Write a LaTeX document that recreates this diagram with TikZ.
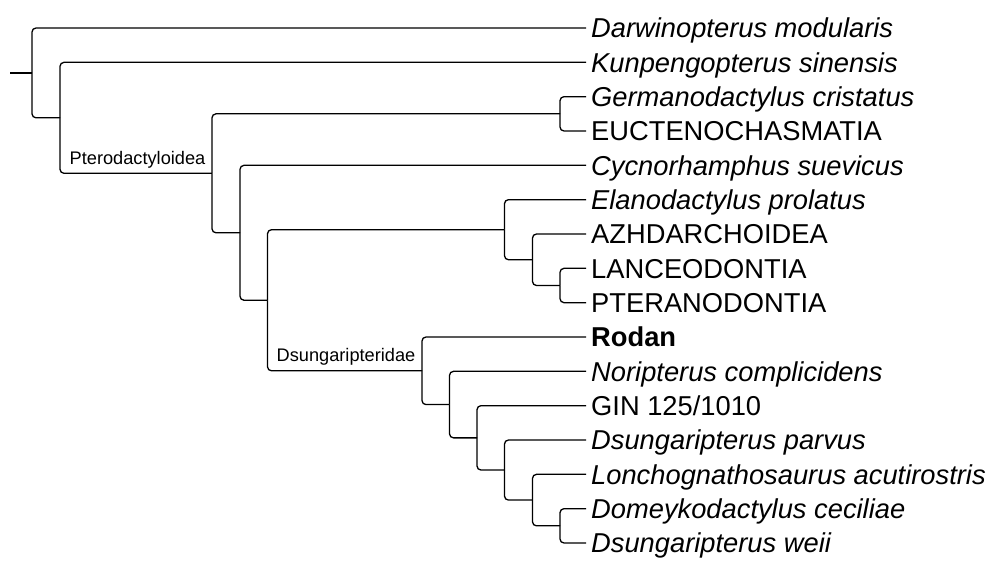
\documentclass[tikz,border=0pt]{standalone}
\usepackage{fontspec}
\setmainfont{Liberation Sans}

\tikzset{
  branch/.style={draw=black, line width=1.3pt, rounded corners=4pt},
  tip/.style={anchor=west, inner xsep=5pt, inner ysep=0pt, text height=19.5pt, text depth=0pt, font=\fontsize{27.3}{30}\selectfont},
  clade/.style={anchor=base east, inner sep=0pt, font=\fontsize{18.2}{20}\selectfont},
}

\begin{document}
\begin{tikzpicture}[x=1pt, y=-1pt]
\useasboundingbox (0,0) rectangle (1000,581);
% tips
\pgfmathsetmacro{\xt}{586}
\pgfmathsetmacro{\yo}{28}
\pgfmathsetmacro{\dy}{34.333}

  \node[tip] (dar) at (\xt,\yo+0*\dy) {\itshape Darwinopterus modularis};
  \node[tip] (kun) at (\xt,\yo+1*\dy) {\itshape Kunpengopterus sinensis};
  \node[tip] (ger) at (\xt,\yo+2*\dy) {\itshape Germanodactylus cristatus};
  \node[tip] (euc) at (\xt,\yo+3*\dy) {EUCTENOCHASMATIA};
  \node[tip] (cyc) at (\xt,\yo+4*\dy) {\itshape Cycnorhamphus suevicus};
  \node[tip] (ela) at (\xt,\yo+5*\dy) {\itshape Elanodactylus prolatus};
  \node[tip] (azh) at (\xt,\yo+6*\dy) {AZHDARCHOIDEA};
  \node[tip] (lan) at (\xt,\yo+7*\dy) {LANCEODONTIA};
  \node[tip] (pte) at (\xt,\yo+8*\dy) {PTERANODONTIA};
  \node[tip] (rod) at (\xt,\yo+9*\dy) {\bfseries Rodan};
  \node[tip] (nor) at (\xt,\yo+10*\dy) {\itshape Noripterus complicidens};
  \node[tip] (gin) at (\xt,\yo+11*\dy) {GIN 125/1010};
  \node[tip] (dpa) at (\xt,\yo+12*\dy) {\itshape Dsungaripterus parvus};
  \node[tip] (lon) at (\xt,\yo+13*\dy) {\itshape Lonchognathosaurus acutirostris};
  \node[tip] (dom) at (\xt,\yo+14*\dy) {\itshape Domeykodactylus ceciliae};
  \node[tip] (dwe) at (\xt,\yo+15*\dy) {\itshape Dsungaripterus weii};

% internal nodes
  \coordinate (stem)  at (10,72.91);
  \coordinate (root)  at (32,72.91);
  \coordinate (kp)    at (60,117.82);
  \coordinate (ptero) at (212,173.31);
  \coordinate (ge)    at (560,113.83);
  \coordinate (cy)    at (240,232.79);
  \coordinate (top)   at (267.5,300.25);
  \coordinate (el)    at (504.5,229.71);
  \coordinate (az)    at (532.5,259.75);
  \coordinate (lp)    at (560,285.5);
  \coordinate (dsung) at (422,370.8);
  \coordinate (no)    at (449.5,404.59);
  \coordinate (gi)    at (477,437.85);
  \coordinate (pa)    at (504.5,470.04);
  \coordinate (lo)    at (532.5,500.08);
  \coordinate (dw)    at (560,525.83);

% branches
  \draw[branch] (stem) -- (root);
  \draw[branch] (root) |- (dar.west);
  \draw[branch] (root) |- (kp);
  \draw[branch] (kp) |- (kun.west);
  \draw[branch] (kp) |- (ptero);
  \draw[branch] (ptero) |- (ge);
  \draw[branch] (ptero) |- (cy);
  \draw[branch] (ge) |- (ger.west);
  \draw[branch] (ge) |- (euc.west);
  \draw[branch] (cy) |- (cyc.west);
  \draw[branch] (cy) |- (top);
  \draw[branch] (top) |- (el);
  \draw[branch] (top) |- (dsung);
  \draw[branch] (el) |- (ela.west);
  \draw[branch] (el) |- (az);
  \draw[branch] (az) |- (azh.west);
  \draw[branch] (az) |- (lp);
  \draw[branch] (lp) |- (lan.west);
  \draw[branch] (lp) |- (pte.west);
  \draw[branch] (dsung) |- (rod.west);
  \draw[branch] (dsung) |- (no);
  \draw[branch] (no) |- (nor.west);
  \draw[branch] (no) |- (gi);
  \draw[branch] (gi) |- (gin.west);
  \draw[branch] (gi) |- (pa);
  \draw[branch] (pa) |- (dpa.west);
  \draw[branch] (pa) |- (lo);
  \draw[branch] (lo) |- (lon.west);
  \draw[branch] (lo) |- (dw);
  \draw[branch] (dw) |- (dom.west);
  \draw[branch] (dw) |- (dwe.west);

% clade labels
  \node[clade] (lptero) at ([xshift=-6.5pt,yshift=9pt]ptero) {Pterodactyloidea};
  \node[clade] (ldsung) at ([xshift=-6.5pt,yshift=9pt]dsung) {Dsungaripteridae};

\end{tikzpicture}
\end{document}
